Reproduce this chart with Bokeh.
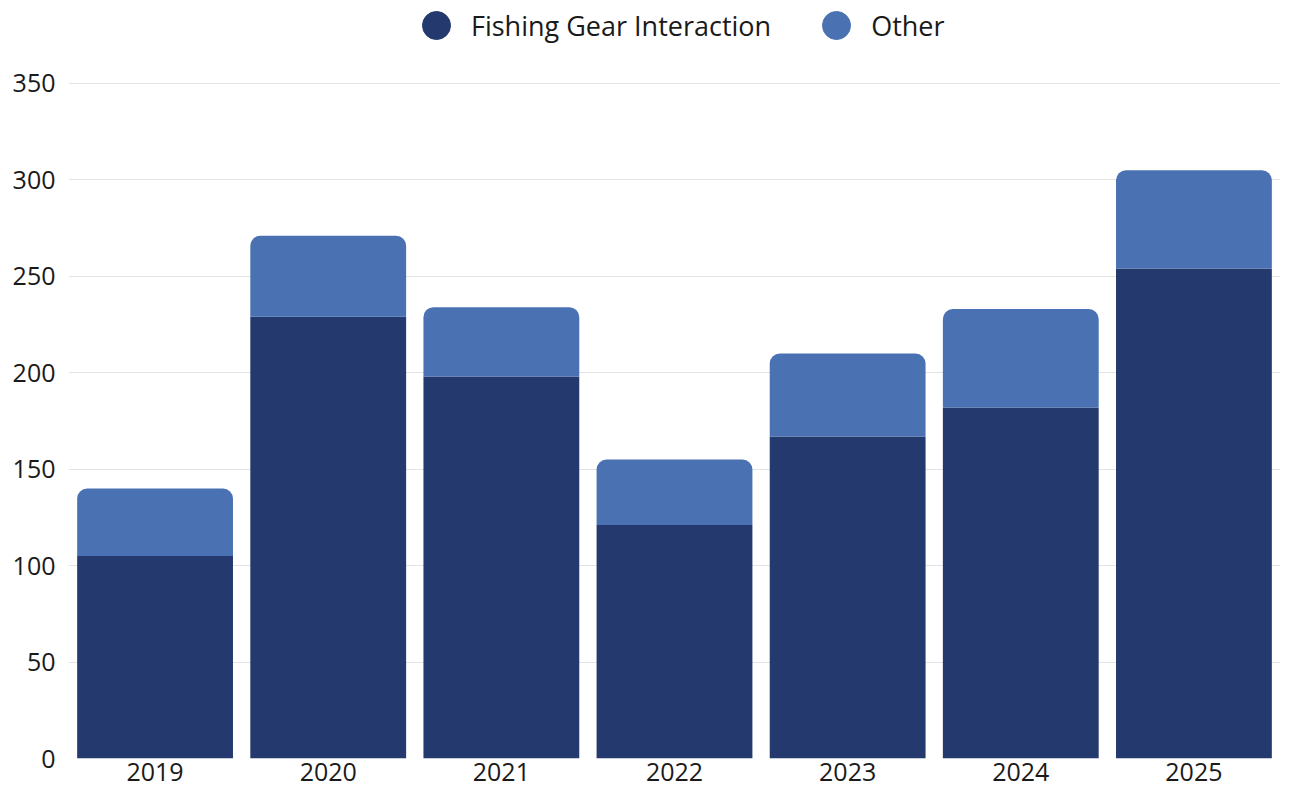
from bokeh.plotting import figure
from bokeh.models import (ColumnDataSource, FactorRange, Range1d, FixedTicker,
                          Legend, LegendItem)
from bokeh.embed import file_html
from bokeh.resources import INLINE

years = ["2019", "2020", "2021", "2022", "2023", "2024", "2025"]
fishing_gear = [105, 229, 198, 121, 167, 182, 254]
other = [35, 42, 36, 34, 43, 51, 51]
y_ticks = [0, 50, 100, 150, 200, 250, 300, 350]

DARK = "#243a6e"
LIGHT = "#4a72b3"
FONT = "Open Sans"

source = ColumnDataSource(dict(year=years, gear=fishing_gear, other=other))

p = figure(x_range=FactorRange(factors=years, range_padding=0),
           y_range=Range1d(0, 393.0),
           width=1280, height=790,
           output_backend="svg", toolbar_location=None,
           min_border_left=68, min_border_right=0,
           min_border_top=0, min_border_bottom=32)

rs = p.vbar_stack(["gear", "other"], x="year", width=0.9, color=[DARK, LIGHT],
                  line_color=None, source=source)
rs[1].glyph.border_radius = (10, 10, 0, 0)

# legend proxies (zero-size markers, only their legend swatches are seen)
proxy = ColumnDataSource(dict(x=[years[0]], y=[0]))
d1 = p.scatter(x="x", y="y", source=proxy, size=0, marker="circle",
               fill_color=DARK, line_color=DARK)
d2 = p.scatter(x="x", y="y", source=proxy, size=0, marker="circle",
               fill_color=LIGHT, line_color=LIGHT)

legend = Legend(items=[LegendItem(label="Fishing Gear Interaction", renderers=[d1]),
                       LegendItem(label="Other", renderers=[d2])],
                orientation="horizontal", location=(333, 698),
                glyph_width=70, glyph_height=70, label_standoff=0,
                spacing=30, padding=0, margin=0,
                border_line_alpha=0, background_fill_alpha=0,
                label_text_font=FONT, label_text_font_size="27px",
                label_text_color="#1a1a1a")
p.add_layout(legend, "center")

p.outline_line_color = None
p.xgrid.grid_line_color = None
p.ygrid.grid_line_color = "#e3e3e3"
p.ygrid.grid_line_width = 1

p.yaxis.ticker = FixedTicker(ticks=y_ticks)
for ax in (p.xaxis[0], p.yaxis[0]):
    ax.axis_line_color = None
    ax.major_tick_line_color = None
    ax.minor_tick_line_color = None
    ax.major_tick_out = 0
    ax.major_tick_in = 0
    ax.minor_tick_out = 0
    ax.major_label_text_font = FONT
    ax.major_label_text_font_size = "25px"
    ax.major_label_text_color = "#1a1a1a"
p.yaxis.major_label_standoff = 13
p.xaxis.major_label_standoff = 4

open("out.html", "w").write(file_html(p, INLINE))
